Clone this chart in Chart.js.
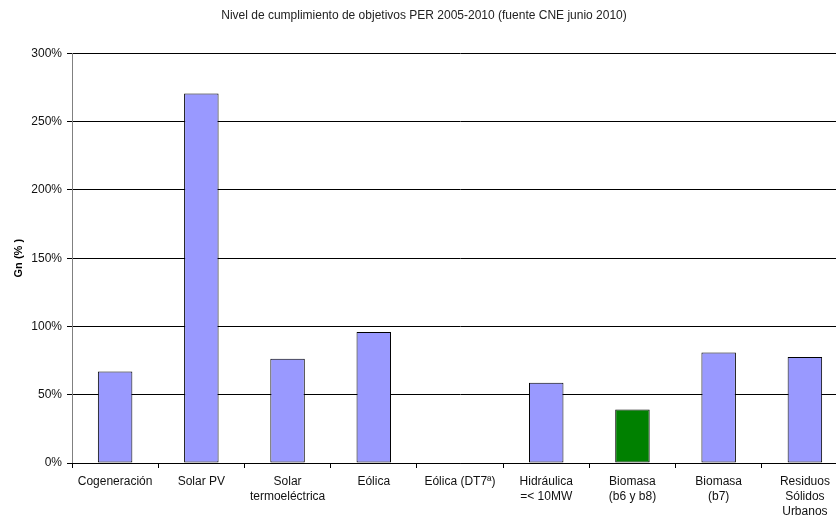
<!DOCTYPE html>
<html>
<head>
<meta charset="utf-8">
<script src="https://cdn.jsdelivr.net/npm/chart.js@4"></script>
<style>
    html, body { margin: 0; padding: 0; background: #fff; }
    #wrap { width: 836px; height: 517px; overflow: hidden; }
</style>
</head>
<body>
<div id="wrap">
    <canvas id="perChart" width="852" height="517"></canvas>
</div>
<script>
const categories = [
    "Cogeneración",
    "Solar PV",
    ["Solar", "termoeléctrica"],
    "Eólica",
    "Eólica (DT7ª)",
    ["Hidráulica", "=< 10MW"],
    ["Biomasa", "(b6 y b8)"],
    ["Biomasa", "(b7)"],
    ["Residuos", "Sólidos", "Urbanos"],
];
const cumplimiento = [67.1, 270.6, 76.4, 95.9, 0, 58.8, 39.2, 81.0, 77.6];
const barColors = ["#9999FF", "#9999FF", "#9999FF", "#9999FF", "#9999FF", "#9999FF", "#008000", "#9999FF", "#9999FF"];
const yTicks = [0, 50, 100, 150, 200, 250, 300];

const fontFamily = "'Liberation Sans', Arial, sans-serif";

let perChart;

document.addEventListener("DOMContentLoaded", (event) => {
    plotPerChart();
});

function plotPerChart() {
    let ctx = document.getElementById("perChart").getContext("2d");
    perChart = new Chart(ctx, {
        type: "bar",
        data: {
            labels: categories,
            datasets: [
                {
                    label: "Gn (%)",
                    data: cumplimiento,
                    backgroundColor: barColors,
                    borderColor: "#000000",
                    borderWidth: 1,
                    borderSkipped: false,
                    barPercentage: 0.4,
                    categoryPercentage: 1.0,
                },
            ],
        },
        options: {
            responsive: false,
            animation: false,
            layout: {
                padding: { left: 0, right: 4, top: 0, bottom: 0 },
            },
            plugins: {
                legend: { display: false },
                tooltip: { enabled: false },
                title: {
                    display: true,
                    text: "Nivel de cumplimiento de objetivos PER 2005-2010 (fuente CNE junio 2010)",
                    color: "#222",
                    font: { family: fontFamily, size: 12, weight: "normal" },
                    padding: { top: 8, bottom: 31 },
                },
            },
            scales: {
                y: {
                    min: 0,
                    max: 300,
                    afterBuildTicks: (axis) => {
                        axis.ticks = yTicks.map((v) => ({ value: v }));
                    },
                    afterFit: (axis) => {
                        axis.width = 72;
                    },
                    ticks: {
                        color: "#111",
                        padding: 5,
                        font: { family: fontFamily, size: 12 },
                        callback: (v) => v + "%",
                    },
                    grid: {
                        color: "#000000",
                        lineWidth: 1,
                        drawTicks: true,
                        tickLength: 5,
                    },
                    border: { color: "#808080", width: 1 },
                    title: {
                        display: true,
                        text: "Gn (% )",
                        color: "#000",
                        font: { family: fontFamily, size: 11, weight: "bold" },
                        padding: { top: 12, bottom: 0 },
                    },
                },
                x: {
                    afterFit: (axis) => {
                        axis.height = 54;
                    },
                    ticks: {
                        color: "#111",
                        padding: 6,
                        maxRotation: 0,
                        autoSkip: false,
                        font: { family: fontFamily, size: 12, lineHeight: 1.25 },
                    },
                    grid: {
                        offset: true,
                        drawOnChartArea: false,
                        drawTicks: true,
                        tickLength: 5,
                        color: "#000000",
                    },
                    border: { color: "#000000", width: 1 },
                },
            },
        },
    });
}
</script>
</body>
</html>
